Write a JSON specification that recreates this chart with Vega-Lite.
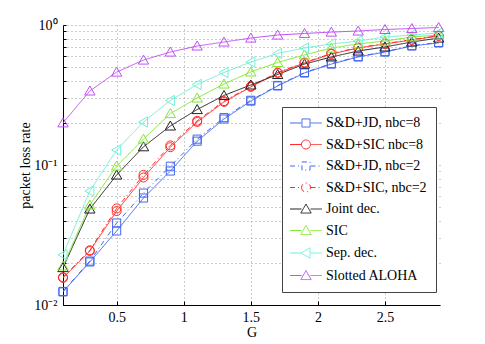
{
  "$schema": "https://vega.github.io/schema/vega-lite/v6.json",
  "width": 377,
  "height": 280,
  "autosize": {"type": "none"},
  "padding": {"left": 63, "top": 25, "right": 45, "bottom": 39},
  "background": "white",
  "config": {
    "view": {"stroke": null},
    "font": "Liberation Serif",
    "legend": {"labelFont": "Liberation Serif", "labelFontSize": 14, "labelColor": "black"},
    "axis": {
      "domainColor": "black", "domainWidth": 1, "tickColor": "black", "tickWidth": 1,
      "labelColor": "black", "titleColor": "black",
      "labelFont": "Liberation Serif", "titleFont": "Liberation Serif",
      "labelFontSize": 14, "titleFontSize": 14, "titleFontWeight": "normal",
      "gridColor": "#9a9a9a", "gridDash": [1, 3], "gridWidth": 1, "gridOpacity": 1
    }
  },
  "datasets": {
    "curves": [
      {"s": "S&D+JD, nbc=8", "G": 0.1, "v": 0.0124}, {"s": "S&D+JD, nbc=8", "G": 0.3, "v": 0.0203}, {"s": "S&D+JD, nbc=8", "G": 0.5, "v": 0.0338}, {"s": "S&D+JD, nbc=8", "G": 0.7, "v": 0.0581}, {"s": "S&D+JD, nbc=8", "G": 0.9, "v": 0.0906}, {"s": "S&D+JD, nbc=8", "G": 1.1, "v": 0.148}, {"s": "S&D+JD, nbc=8", "G": 1.3, "v": 0.213}, {"s": "S&D+JD, nbc=8", "G": 1.5, "v": 0.286}, {"s": "S&D+JD, nbc=8", "G": 1.7, "v": 0.367}, {"s": "S&D+JD, nbc=8", "G": 1.9, "v": 0.454}, {"s": "S&D+JD, nbc=8", "G": 2.1, "v": 0.526}, {"s": "S&D+JD, nbc=8", "G": 2.3, "v": 0.591}, {"s": "S&D+JD, nbc=8", "G": 2.5, "v": 0.641}, {"s": "S&D+JD, nbc=8", "G": 2.7, "v": 0.708}, {"s": "S&D+JD, nbc=8", "G": 2.9, "v": 0.745},
      {"s": "S&D+SIC nbc=8", "G": 0.1, "v": 0.0156}, {"s": "S&D+SIC nbc=8", "G": 0.3, "v": 0.0243}, {"s": "S&D+SIC nbc=8", "G": 0.5, "v": 0.0469}, {"s": "S&D+SIC nbc=8", "G": 0.7, "v": 0.0814}, {"s": "S&D+SIC nbc=8", "G": 0.9, "v": 0.134}, {"s": "S&D+SIC nbc=8", "G": 1.1, "v": 0.203}, {"s": "S&D+SIC nbc=8", "G": 1.3, "v": 0.282}, {"s": "S&D+SIC nbc=8", "G": 1.5, "v": 0.361}, {"s": "S&D+SIC nbc=8", "G": 1.7, "v": 0.454}, {"s": "S&D+SIC nbc=8", "G": 1.9, "v": 0.535}, {"s": "S&D+SIC nbc=8", "G": 2.1, "v": 0.621}, {"s": "S&D+SIC nbc=8", "G": 2.3, "v": 0.685}, {"s": "S&D+SIC nbc=8", "G": 2.5, "v": 0.732}, {"s": "S&D+SIC nbc=8", "G": 2.7, "v": 0.782}, {"s": "S&D+SIC nbc=8", "G": 2.9, "v": 0.835},
      {"s": "S&D+JD, nbc=2", "G": 0.1, "v": 0.0125}, {"s": "S&D+JD, nbc=2", "G": 0.3, "v": 0.0206}, {"s": "S&D+JD, nbc=2", "G": 0.5, "v": 0.0385}, {"s": "S&D+JD, nbc=2", "G": 0.7, "v": 0.063}, {"s": "S&D+JD, nbc=2", "G": 0.9, "v": 0.098}, {"s": "S&D+JD, nbc=2", "G": 1.1, "v": 0.153}, {"s": "S&D+JD, nbc=2", "G": 1.3, "v": 0.218}, {"s": "S&D+JD, nbc=2", "G": 1.5, "v": 0.29}, {"s": "S&D+JD, nbc=2", "G": 1.7, "v": 0.37}, {"s": "S&D+JD, nbc=2", "G": 1.9, "v": 0.458}, {"s": "S&D+JD, nbc=2", "G": 2.1, "v": 0.53}, {"s": "S&D+JD, nbc=2", "G": 2.3, "v": 0.595}, {"s": "S&D+JD, nbc=2", "G": 2.5, "v": 0.645}, {"s": "S&D+JD, nbc=2", "G": 2.7, "v": 0.712}, {"s": "S&D+JD, nbc=2", "G": 2.9, "v": 0.75},
      {"s": "S&D+SIC, nbc=2", "G": 0.1, "v": 0.0158}, {"s": "S&D+SIC, nbc=2", "G": 0.3, "v": 0.0246}, {"s": "S&D+SIC, nbc=2", "G": 0.5, "v": 0.049}, {"s": "S&D+SIC, nbc=2", "G": 0.7, "v": 0.085}, {"s": "S&D+SIC, nbc=2", "G": 0.9, "v": 0.138}, {"s": "S&D+SIC, nbc=2", "G": 1.1, "v": 0.207}, {"s": "S&D+SIC, nbc=2", "G": 1.3, "v": 0.286}, {"s": "S&D+SIC, nbc=2", "G": 1.5, "v": 0.365}, {"s": "S&D+SIC, nbc=2", "G": 1.7, "v": 0.458}, {"s": "S&D+SIC, nbc=2", "G": 1.9, "v": 0.54}, {"s": "S&D+SIC, nbc=2", "G": 2.1, "v": 0.625}, {"s": "S&D+SIC, nbc=2", "G": 2.3, "v": 0.69}, {"s": "S&D+SIC, nbc=2", "G": 2.5, "v": 0.736}, {"s": "S&D+SIC, nbc=2", "G": 2.7, "v": 0.786}, {"s": "S&D+SIC, nbc=2", "G": 2.9, "v": 0.84},
      {"s": "Joint dec.", "G": 0.1, "v": 0.0185}, {"s": "Joint dec.", "G": 0.3, "v": 0.0485}, {"s": "Joint dec.", "G": 0.5, "v": 0.0848}, {"s": "Joint dec.", "G": 0.7, "v": 0.135}, {"s": "Joint dec.", "G": 0.9, "v": 0.19}, {"s": "Joint dec.", "G": 1.1, "v": 0.249}, {"s": "Joint dec.", "G": 1.3, "v": 0.314}, {"s": "Joint dec.", "G": 1.5, "v": 0.373}, {"s": "Joint dec.", "G": 1.7, "v": 0.443}, {"s": "Joint dec.", "G": 1.9, "v": 0.526}, {"s": "Joint dec.", "G": 2.1, "v": 0.591}, {"s": "Joint dec.", "G": 2.3, "v": 0.652}, {"s": "Joint dec.", "G": 2.5, "v": 0.697}, {"s": "Joint dec.", "G": 2.7, "v": 0.756}, {"s": "Joint dec.", "G": 2.9, "v": 0.807},
      {"s": "SIC", "G": 0.1, "v": 0.019}, {"s": "SIC", "G": 0.3, "v": 0.0518}, {"s": "SIC", "G": 0.5, "v": 0.0984}, {"s": "SIC", "G": 0.7, "v": 0.153}, {"s": "SIC", "G": 0.9, "v": 0.233}, {"s": "SIC", "G": 1.1, "v": 0.301}, {"s": "SIC", "G": 1.3, "v": 0.379}, {"s": "SIC", "G": 1.5, "v": 0.462}, {"s": "SIC", "G": 1.7, "v": 0.54}, {"s": "SIC", "G": 1.9, "v": 0.611}, {"s": "SIC", "G": 2.1, "v": 0.685}, {"s": "SIC", "G": 2.3, "v": 0.732}, {"s": "SIC", "G": 2.5, "v": 0.768}, {"s": "SIC", "G": 2.7, "v": 0.821}, {"s": "SIC", "G": 2.9, "v": 0.848},
      {"s": "Sep. dec.", "G": 0.1, "v": 0.0228}, {"s": "Sep. dec.", "G": 0.3, "v": 0.0652}, {"s": "Sep. dec.", "G": 0.5, "v": 0.128}, {"s": "Sep. dec.", "G": 0.7, "v": 0.203}, {"s": "Sep. dec.", "G": 0.9, "v": 0.289}, {"s": "Sep. dec.", "G": 1.1, "v": 0.376}, {"s": "Sep. dec.", "G": 1.3, "v": 0.458}, {"s": "Sep. dec.", "G": 1.5, "v": 0.544}, {"s": "Sep. dec.", "G": 1.7, "v": 0.626}, {"s": "Sep. dec.", "G": 1.9, "v": 0.685}, {"s": "Sep. dec.", "G": 2.1, "v": 0.732}, {"s": "Sep. dec.", "G": 2.3, "v": 0.768}, {"s": "Sep. dec.", "G": 2.5, "v": 0.821}, {"s": "Sep. dec.", "G": 2.7, "v": 0.848}, {"s": "Sep. dec.", "G": 2.9, "v": 0.877},
      {"s": "Slotted ALOHA", "G": 0.1, "v": 0.2}, {"s": "Slotted ALOHA", "G": 0.3, "v": 0.338}, {"s": "Slotted ALOHA", "G": 0.5, "v": 0.461}, {"s": "Slotted ALOHA", "G": 0.7, "v": 0.562}, {"s": "Slotted ALOHA", "G": 0.9, "v": 0.641}, {"s": "Slotted ALOHA", "G": 1.1, "v": 0.708}, {"s": "Slotted ALOHA", "G": 1.3, "v": 0.756}, {"s": "Slotted ALOHA", "G": 1.5, "v": 0.807}, {"s": "Slotted ALOHA", "G": 1.7, "v": 0.848}, {"s": "Slotted ALOHA", "G": 1.9, "v": 0.87}, {"s": "Slotted ALOHA", "G": 2.1, "v": 0.89}, {"s": "Slotted ALOHA", "G": 2.3, "v": 0.906}, {"s": "Slotted ALOHA", "G": 2.5, "v": 0.929}, {"s": "Slotted ALOHA", "G": 2.7, "v": 0.944}, {"s": "Slotted ALOHA", "G": 2.9, "v": 0.96}
    ]
  },
  "data": {"name": "curves"},
  "encoding": {
    "x": {
      "field": "G", "type": "quantitative",
      "scale": {"domain": [0.1, 2.91], "nice": false, "zero": false},
      "axis": {"title": "G", "values": [0.5, 1, 1.5, 2, 2.5], "format": "~g", "tickSize": -4, "labelPadding": 9, "titlePadding": 1, "labelFlush": false}
    },
    "y": {
      "field": "v", "type": "quantitative",
      "scale": {"type": "log", "domain": [0.01, 1], "nice": false},
      "axis": {
        "title": "packet loss rate",
        "values": [0.01, 0.02, 0.03, 0.04, 0.05, 0.06, 0.07, 0.08, 0.09, 0.1, 0.2, 0.3, 0.4, 0.5, 0.6, 0.7, 0.8, 0.9, 1],
        "labelExpr": "datum.value == 1 ? '10⁰' : datum.value == 0.1 ? '10⁻¹' : datum.value == 0.01 ? '10⁻²' : ''",
        "tickSize": -3, "labelPadding": 9, "titlePadding": 1, "labelFlush": false
      }
    }
  },
  "layer": [
    {
      "mark": {"type": "line", "strokeWidth": 1, "clip": true},
      "encoding": {
        "color": {
          "field": "s", "type": "nominal",
          "scale": {
            "domain": ["S&D+JD, nbc=8", "S&D+SIC nbc=8", "S&D+JD, nbc=2", "S&D+SIC, nbc=2", "Joint dec.", "SIC", "Sep. dec.", "Slotted ALOHA"],
            "range": ["#4466ee", "#ff2a2a", "#4466ee", "#ff2a2a", "#222222", "#80e830", "#70f0d8", "#c050f5"]
          },
          "legend": {
            "title": null, "orient": "none", "legendX": 219, "legendY": 82,
            "strokeColor": "#444444", "fillColor": "white", "padding": 9,
            "labelFont": "Liberation Serif", "labelFontSize": 14, "labelColor": "black", "labelLimit": 300,
            "symbolSize": 81, "symbolStrokeWidth": 1, "symbolOffset": 8, "labelOffset": 13, "rowPadding": 7.5,
            "encoding": {
              "symbols": {
                "shape": {"value": {"expr": "(indexof(datum.value,'JD')>=0 ? 'M-0.9,-0.9H0.9V0.9H-0.9Z' : indexof(datum.value,'S&D+SIC')>=0 ? 'M-1,0A1,1,0,1,0,1,0A1,1,0,1,0,-1,0Z' : datum.value=='Sep. dec.' ? 'M-1.1,0L0.9,-1.15V1.15Z' : 'M0,-1.1L1.15,0.9H-1.15Z') + 'M-3.55,0H-1M1,0H3.55'"}}
              }
            }
          }
        },
        "strokeDash": {
          "field": "s", "type": "nominal",
          "scale": {
            "domain": ["S&D+JD, nbc=8", "S&D+SIC nbc=8", "S&D+JD, nbc=2", "S&D+SIC, nbc=2", "Joint dec.", "SIC", "Sep. dec.", "Slotted ALOHA"],
            "range": [[1, 0], [1, 0], [5, 3, 1, 3], [5, 3, 1, 3], [1, 0], [1, 0], [1, 0], [1, 0]]
          },
          "legend": null
        }
      }
    },
    {
      "mark": {"type": "point", "filled": false, "size": 81, "strokeWidth": 1, "opacity": 1},
      "encoding": {
        "color": {"field": "s", "type": "nominal", "legend": null},
        "shape": {
          "field": "s", "type": "nominal",
          "scale": {
            "domain": ["Slotted ALOHA", "Sep. dec.", "SIC", "Joint dec.", "S&D+SIC, nbc=2", "S&D+JD, nbc=2", "S&D+SIC nbc=8", "S&D+JD, nbc=8"],
            "range": ["M0,-1.1L1.15,0.9H-1.15Z", "M-1.1,0L0.9,-1.15V1.15Z", "M0,-1.1L1.15,0.9H-1.15Z", "M0,-1.1L1.15,0.9H-1.15Z", "M-1,0A1,1,0,1,0,1,0A1,1,0,1,0,-1,0Z", "M-0.9,-0.9H0.9V0.9H-0.9Z", "M-1,0A1,1,0,1,0,1,0A1,1,0,1,0,-1,0Z", "M-0.9,-0.9H0.9V0.9H-0.9Z"]
          },
          "legend": null
        }
      }
    }
  ]
}
